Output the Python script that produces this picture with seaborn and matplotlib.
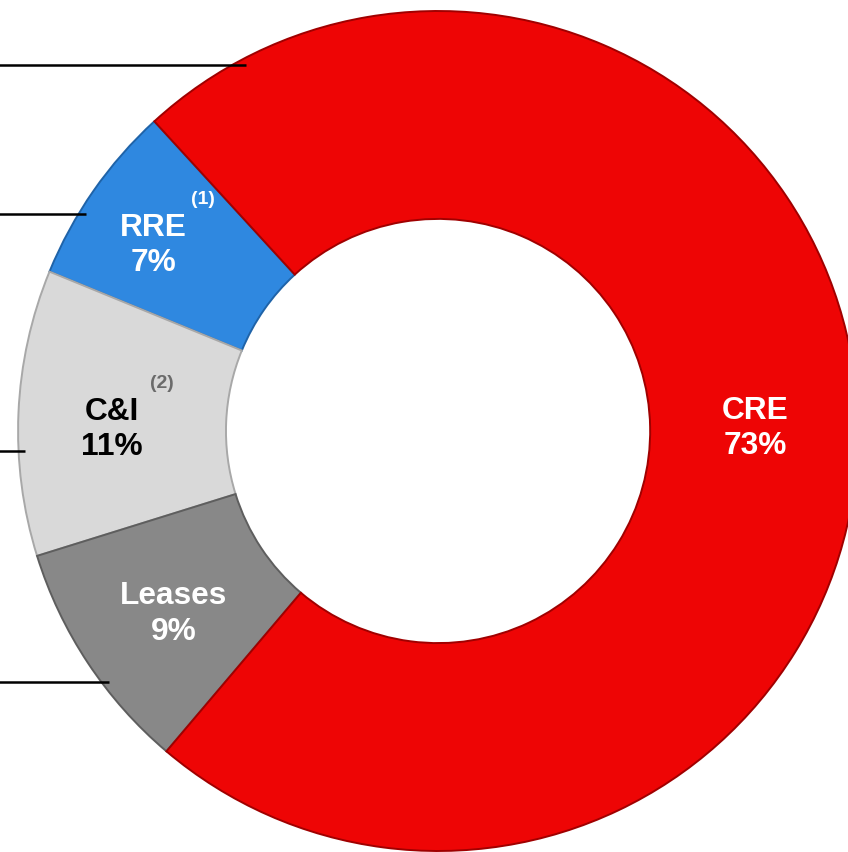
"""
Loan portfolio mix - donut chart (CRE / RRE / C&I / Leases)
"""
import numpy as np
import seaborn as sns
import matplotlib.pyplot as plt

sns.set_theme(style="white")
plt.rcParams["font.family"] = ["Liberation Sans", "DejaVu Sans"]

# data
segments = ["RRE", "C&I", "Leases", "CRE"]
shares = [7, 11, 9, 73]
footnotes = ["(1)", "(2)", "", ""]
colors = ["#2f88e0", "#d9d9d9", "#888888", "#ee0505"]
edge_colors = ["#1f63a8", "#a8a8a8", "#5e5e5e", "#a00000"]
text_colors = ["white", "black", "white", "white"]
note_colors = ["white", "#6b6b6b", "white", "white"]
# label radius / angle nudge (deg) inside each wedge
label_r = [0.81, 0.776, 0.765, 0.755]
label_nudge = [1.7, 2.0, 1.0, -0.4]
# where the leader line from the (cropped) legend touches each wedge, deg
leader_deg = [148.3, 182.8, 217.3, 117.7]

fig = plt.figure(figsize=(8.48, 8.53), dpi=100)
ax = fig.add_axes([0, 0, 1, 1])

wedges, _ = ax.pie(
    shares,
    colors=colors,
    startangle=132.5,
    counterclock=True,
    radius=1.0,
    wedgeprops=dict(width=0.495, linewidth=1.4),
)
for w, ec in zip(wedges, edge_colors):
    w.set_edgecolor(ec)

# labels inside the ring
for i, w in enumerate(wedges):
    mid = np.deg2rad((w.theta1 + w.theta2) / 2 + label_nudge[i])
    x, y = label_r[i] * np.cos(mid), label_r[i] * np.sin(mid)
    ax.text(x, y, f"{segments[i]}\n{shares[i]}%", ha="center", va="center",
            fontsize=22.8, fontweight="bold", color=text_colors[i],
            linespacing=1.22)
    if footnotes[i]:
        ax.annotate(footnotes[i], (x, y), xytext=(50, 46),
                    textcoords="offset pixels", ha="center", va="center",
                    fontsize=14, fontweight="bold", color=note_colors[i])

# leader lines coming in from the left
x_left = -1.05
for deg in leader_deg:
    a = np.deg2rad(deg)
    xe, ye = 0.985 * np.cos(a), 0.985 * np.sin(a)
    ax.plot([x_left, xe], [ye, ye], color="black", lw=1.8,
            solid_capstyle="butt", zorder=5)

ax.set_xlim(-1.043, 0.976)
ax.set_ylim(-1.0024, 1.0286)
ax.axis("off")

plt.savefig("out.png", dpi=100)
plt.close()
